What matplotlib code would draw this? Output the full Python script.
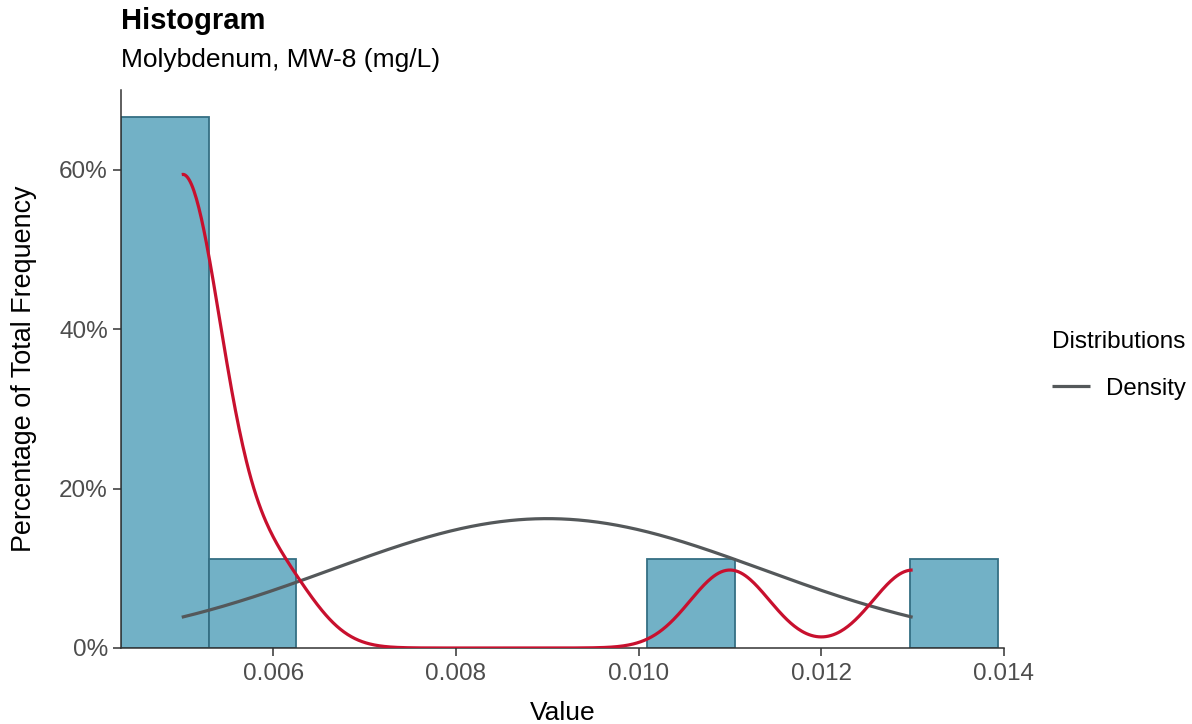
import numpy as np
import matplotlib
matplotlib.use("Agg")
import matplotlib.pyplot as plt
from matplotlib.ticker import FuncFormatter

# ---- data ----
observations = [0.005, 0.005, 0.005, 0.005, 0.005, 0.005, 0.006, 0.011, 0.013]
bin_start = 0.004335
bin_width = 0.00096
n_bins = 10
kde_bandwidth = 0.000435
normal_mean = 0.009
normal_sd = 0.00236
x_ticks = [0.006, 0.008, 0.010, 0.012, 0.014]
y_ticks = [0, 20, 40, 60]

plt.rcParams['font.family'] = ['Liberation Sans', 'DejaVu Sans']

obs = np.asarray(observations)
n = len(obs)
edges = bin_start + bin_width * np.arange(n_bins + 1)
counts, _ = np.histogram(obs, bins=edges)
pct = counts / n * 100

fig = plt.figure(figsize=(11.92, 7.24), dpi=100)
ax = fig.add_axes([121/1192, 1 - 648/724, (1004 - 121)/1192, (648 - 90)/724])

mask = counts > 0
ax.bar(edges[:-1][mask], pct[mask], width=bin_width, align='edge',
       color='#72B1C6', edgecolor='#356F84', linewidth=1.3, zorder=2)

# density curves over data range
xs = np.linspace(obs.min(), obs.max(), 600)
kde = np.zeros_like(xs)
for v in obs:
    kde += np.exp(-0.5 * ((xs - v) / kde_bandwidth) ** 2)
kde = kde / (n * kde_bandwidth * np.sqrt(2 * np.pi)) * bin_width * 100
norm = np.exp(-0.5 * ((xs - normal_mean) / normal_sd) ** 2) / (normal_sd * np.sqrt(2 * np.pi)) * bin_width * 100

ax.plot(xs, norm, color='#54585A', linewidth=2.3, zorder=3, label='Density',
        solid_capstyle='butt')
ax.plot(xs, kde, color='#C8102E', linewidth=2.3, zorder=4, solid_capstyle='butt')

ax.set_xlim(bin_start, 0.014)
ax.set_ylim(0, 70)
ax.set_xticks(x_ticks)
ax.set_xticklabels([f"{t:.3f}" for t in x_ticks])
ax.set_yticks(y_ticks)
ax.yaxis.set_major_formatter(FuncFormatter(lambda v, p: f"{v:.0f}%"))

for s in ['top', 'right']:
    ax.spines[s].set_visible(False)
for s in ['left', 'bottom']:
    ax.spines[s].set_color('#333333')
    ax.spines[s].set_linewidth(1.1)
ax.tick_params(axis='both', colors='#333333', labelcolor='#4D4D4D', labelsize=17.5,
               length=5.5, width=1.1)
ax.tick_params(axis='x', pad=5)
ax.tick_params(axis='y', pad=4)

ax.set_xlabel('Value', fontsize=19, color='black', labelpad=12)
ax.set_ylabel('Percentage of Total Frequency', fontsize=19.4, color='black', labelpad=16)

fig.text(121/1192, 1 - 29/724, 'Histogram', fontsize=21, fontweight='bold', ha='left', va='baseline')
fig.text(121/1192, 1 - 67/724, 'Molybdenum, MW-8 (mg/L)', fontsize=19, ha='left', va='baseline')

leg = fig.legend(handles=[ax.lines[0]], labels=['Density'], title='Distributions',
                 loc='upper left', bbox_to_anchor=(1042/1192, 1 - 321/724),
                 frameon=False, fontsize=17.3, title_fontsize=17.5,
                 handlelength=1.6, handletextpad=0.65, borderaxespad=0, labelspacing=0.3)
leg._legend_box.align = 'left'
leg._legend_box.sep = 18

fig.savefig('out.png', dpi=100)
